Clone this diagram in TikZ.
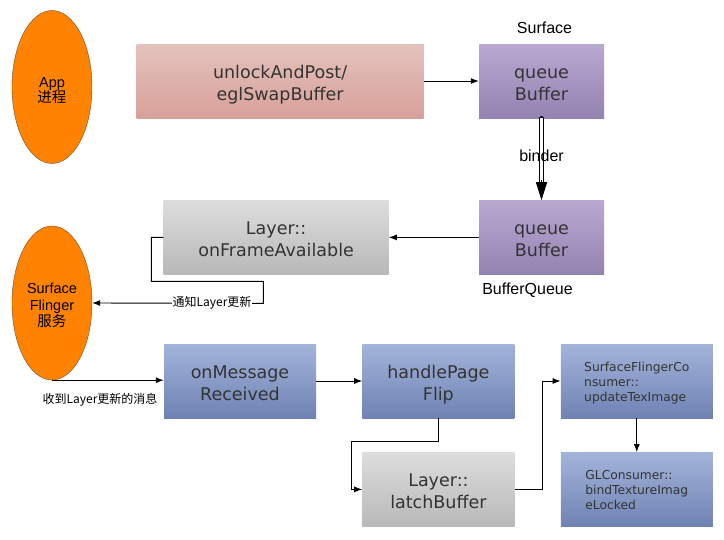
\documentclass[tikz,border=0pt]{standalone}
\usepackage{fontspec}
\setmainfont{Liberation Sans}
\newfontfamily\boxfont{DejaVu Sans}
\newfontfamily\cjk{Noto Sans CJK SC}
\usepackage{tikz}
\usetikzlibrary{arrows.meta,positioning,shapes.geometric}
\definecolor{pinktop}{HTML}{E3C2BC}
\definecolor{pinkbot}{HTML}{D9A09A}
\definecolor{purptop}{HTML}{B9A8D0}
\definecolor{purpbot}{HTML}{9483B2}
\definecolor{graytop}{HTML}{DDDDDD}
\definecolor{graybot}{HTML}{B8B8B8}
\definecolor{bluetop}{HTML}{A3B4DA}
\definecolor{bluebot}{HTML}{6F82B3}
\definecolor{procorange}{HTML}{FF8200}
\definecolor{boxtext}{HTML}{333333}
\tikzset{
    procs/.style={
           ellipse,
           draw=brown!60!black, thin,
           fill=procorange,
           minimum width=80pt,
           minimum height=153pt,
           inner sep=0pt,
           align=center,
           font=\fontsize{14.5}{15.5}\selectfont,
           text height=36pt, text depth=5pt},
    calls/.style={
           rectangle,
           minimum width=152pt,
           minimum height=74pt,
           inner sep=0pt,
           align=center,
           text=boxtext,
           font=\boxfont\fontsize{17.5}{22}\selectfont,
           text height=45pt, text depth=6pt},
    pinkcall/.style={calls, top color=pinktop, bottom color=pinkbot},
    purpcall/.style={calls, minimum width=125pt, top color=purptop, bottom color=purpbot},
    graycall/.style={calls, top color=graytop, bottom color=graybot},
    bluecall/.style={calls, top color=bluetop, bottom color=bluebot},
    smallcall/.style={bluecall, align=left,
           font=\boxfont\fontsize{12.3}{15}\selectfont,
           text height=46pt, text depth=6pt},
    tags/.style={font=\fontsize{16}{18}\selectfont},
    notes/.style={font=\cjk\fontsize{12}{14}\selectfont, inner sep=1pt},
    % Define arrow style
    msgs/.style={
           -{Latex[length=8pt,width=6pt]},
           line width=0.9pt}
}
\begin{document}
\begin{tikzpicture}[x=1pt, y=1pt]
	\useasboundingbox (0,0) rectangle (724,-539);

	\node[procs] (app) at (52,-87) {App\\{\cjk 进程}};
	\node[procs, minimum height=154pt, font=\fontsize{14.5}{16.5}\selectfont,
	      text height=52pt] (sf) at (52,-303) {Surface\\Flinger\\{\cjk 服务}};

	\node[purpcall] (sq) at (541.5,-81) {queue\\Buffer};
	\node[pinkcall, minimum width=287pt, left=55pt of sq] (unlock) {unlockAndPost/\\eglSwapBuffer};
	\node[purpcall, below=82pt of sq] (bq) {queue\\Buffer};
	\node[graycall, minimum width=225pt, left=90pt of bq] (frame) {Layer::\\onFrameAvailable};
	\node[tags, above=7pt of sq, xshift=3pt] (surfacetag) {Surface};
	\node[tags, below=5pt of bq, xshift=-14pt] (queuetag) {BufferQueue};

	\node[bluecall] (onmsg) at (240,-381) {onMessage\\Received};
	\node[bluecall, right=46pt of onmsg] (flip) {handlePage\\Flip};
	\node[graycall, below=34pt of flip] (latch) {Layer::\\latchBuffer};
	\node[smallcall, right=46pt of flip] (sfc) {SurfaceFlingerCo\\nsumer::\\updateTexImage};
	\node[smallcall, below=34pt of sfc] (gl) {GLConsumer::\\bindTextureImag\\eLocked};

	\draw[msgs] (unlock) -- (sq);
	% binder: black outline, white core
	\draw[line width=4.2pt, line cap=round, shorten >=17pt] (sq) -- (bq);
	\draw[line width=2.2pt, white, shorten >=17pt] (sq) -- node[tags, text=black, yshift=3pt] {binder} (bq);
	\draw[line width=1pt, shorten <=62pt, -{Triangle[length=18pt,width=11pt]}] (sq) -- (bq);
	\draw[msgs] (bq) -- (frame);
	\draw[msgs] (frame.west) -- ++(-12pt,0) -- ++(0,-44pt) -- ++(112pt,0) -- ++(0,-22pt) -- node[notes, fill=white, pos=0.3] {通知Layer更新} (sf.east);
	\draw[msgs] (sf.south) -- node[notes, pos=0.43, yshift=-20pt] {收到Layer更新的消息} (sf.south -| onmsg.west);
	\draw[msgs] (onmsg) -- (flip);
	\draw[msgs] (flip.south) -- ++(0,-23pt) -- ++(-87pt,0) |- (latch.west);
	\draw[msgs] (latch.east) -- ++(28pt,0) |- (sfc.west);
	\draw[msgs] (sfc) -- (gl);
\end{tikzpicture}
\end{document}
